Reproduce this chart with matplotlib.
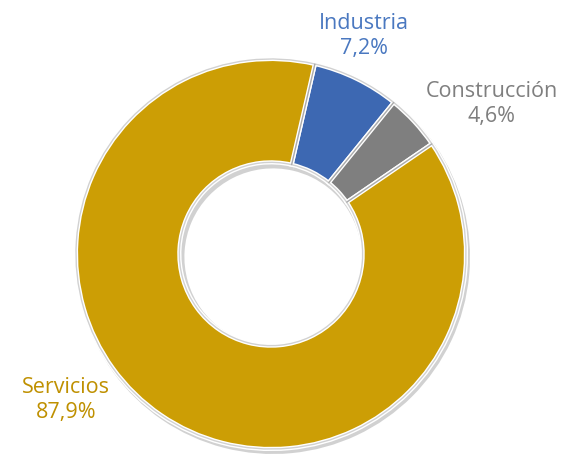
import matplotlib
matplotlib.use('Agg')
import matplotlib.pyplot as plt

sectors = ['Industria', 'Construcción', 'Servicios']
shares = [7.2, 4.6, 87.9]
slice_colors = ['#3D68B2', '#7F7F7F', '#CC9E05']
text_colors = ['#4A78C0', '#7F7F7F', '#BF9000']

W, H = 564, 455
fig = plt.figure(figsize=(W / 100, H / 100), dpi=100)
ax = fig.add_axes([0, 0, 1, 1])

cx, cy = 271, H - 254
r_out = 195
ring = 0.53

# soft shadow under the ring
ax.pie(shares, radius=r_out + 2, center=(cx + 2, cy - 3), startangle=77, counterclock=False,
       colors=['#9a9a9a'] * 3, wedgeprops=dict(width=(r_out + 2) * ring + 4, linewidth=0, alpha=0.45),
       normalize=True, frame=True)

wedges, _ = ax.pie(shares, radius=r_out, center=(cx, cy), startangle=77, counterclock=False,
                   colors=slice_colors, normalize=True, frame=True,
                   wedgeprops=dict(width=r_out * ring, edgecolor='white', linewidth=3))

# darker rim to hint at the bevel
ax.pie(shares, radius=r_out, center=(cx, cy), startangle=77, counterclock=False,
       colors=['none'] * 3, normalize=True, frame=True,
       wedgeprops=dict(width=r_out * ring, edgecolor=(0, 0, 0, 0.18), linewidth=1.0, fill=False))

ax.set_xlim(0, W)
ax.set_ylim(0, H)
ax.set_aspect('equal')
ax.axis('off')

label_pos = [(364, 36), (492, 104), (66, 400)]
for name, val, col, (lx, ly) in zip(sectors, shares, text_colors, label_pos):
    txt = '%s\n%s%%' % (name, ('%.1f' % val).replace('.', ','))
    ax.text(lx, H - ly, txt, ha='center', va='center', color=col, fontsize=15.5,
            family='Open Sans', linespacing=1.3)

fig.savefig('out.png', dpi=100)
